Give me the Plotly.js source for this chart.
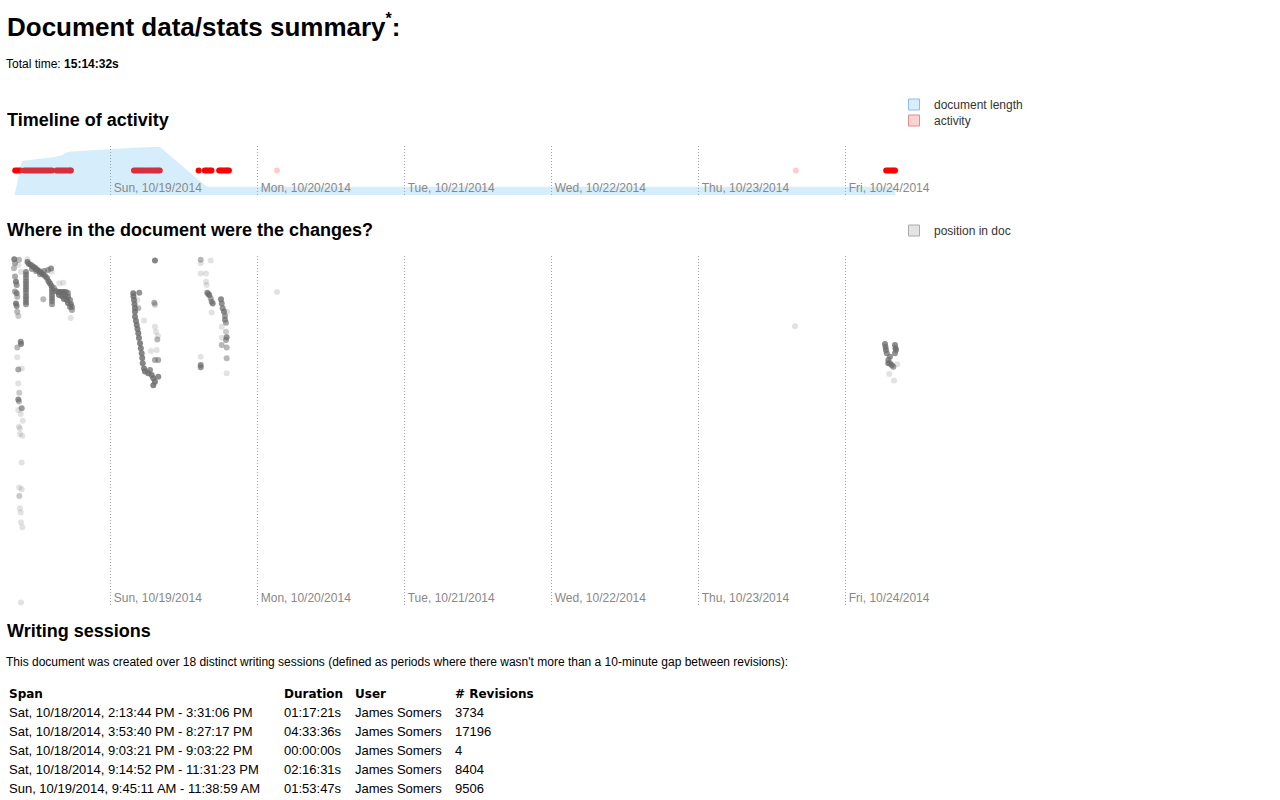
<!DOCTYPE html>
<html><head><meta charset="utf-8">
<script src="https://cdn.plot.ly/plotly-3.0.1.min.js"></script>
<style>
html,body{margin:0;padding:0;background:#fff;}
body{width:1280px;height:800px;overflow:hidden;position:relative;font-family:"Liberation Sans",Arial,sans-serif;color:#000;}
.abs{position:absolute;white-space:nowrap;margin:0;}
.h1{left:7px;top:14px;font-size:26px;line-height:26px;font-weight:bold;}
.h1 sup{font-size:16px;line-height:0;position:relative;top:-2px;}
.h2{left:7px;font-size:18px;line-height:18px;font-weight:bold;}
.txt{left:6px;font-size:12px;line-height:12px;}
#timeline{left:0;top:90px;width:1280px;height:110px;}
#positions{left:0;top:216px;width:1280px;height:394px;}
table{border-collapse:collapse;table-layout:fixed;}
td,th{padding:0 0 0 3px;height:19px;text-align:left;white-space:nowrap;vertical-align:middle;}
th{font-family:"DejaVu Sans",sans-serif;font-weight:bold;font-size:12px;}
td{font-size:13px;}
</style>
</head><body>
<div class="abs h1">Document data/stats summary<sup>*</sup>:</div>
<div class="abs txt" style="top:58px">Total time: <b>15:14:32s</b></div>
<div class="abs h2" style="top:111px">Timeline of activity</div>
<div class="abs" id="timeline"></div>
<div class="abs h2" style="top:221px">Where in the document were the changes?</div>
<div class="abs" id="positions"></div>
<div class="abs h2" style="top:622px">Writing sessions</div>
<div class="abs txt" style="top:656px">This document was created over 18 distinct writing sessions (defined as periods where there wasn't more than a 10-minute gap between revisions):</div>
<table class="abs" id="sessions" style="left:6px;top:684px;"></table>
<script>
// ---- axis ticks (hours since Sat 10/18/2014 00:00) ----
var dayTickHours = [30, 54, 78, 102, 126, 150];
var dayTickLabels = ["Sun, 10/19/2014", "Mon, 10/20/2014", "Tue, 10/21/2014", "Wed, 10/22/2014", "Thu, 10/23/2014", "Fri, 10/24/2014"];
var axisRange = [12.9, 159.84];

// ---- document length over time (hours, characters) ----
var lengthHours = [14.3, 15.5, 16.5, 18.0, 19.5, 21.0, 22.2, 22.6, 23.5, 33.75, 35.6, 38.0, 44.35, 45.7, 49.3, 57.15, 141.85, 158.1];
var lengthChars = [0, 24300, 24800, 25700, 26500, 27400, 28600, 30200, 31000, 33800, 34100, 34500, 10800, 5900, 5950, 5950, 5950, 5950];

// ---- activity: revisions per ~20 minute bin (hours, revisions) ----
var activityHours = [14.4, 14.7, 15.0, 15.3,
  15.9, 16.2, 16.5, 16.8, 17.1, 17.4, 17.7, 18.0, 18.3, 18.6, 18.9, 19.2, 19.5, 19.8, 20.1, 20.4,
  21.06,
  21.25, 21.55, 21.85, 22.15, 22.45, 22.75, 23.05, 23.35, 23.5,
  33.8, 34.1, 34.4, 34.7, 35.0, 35.3, 35.6,
  35.95, 36.25, 36.55, 36.85, 37.15, 37.45, 37.75, 38.0,
  44.35,
  45.35, 45.6, 45.9, 46.2, 46.45,
  47.7, 47.95, 48.2, 48.5, 48.8, 49.05, 49.3,
  57.15, 141.85,
  156.6, 156.9, 157.2, 157.5, 157.8, 158.05];
var activityRevs = [900, 950, 1000, 880,
  1200, 1250, 1300, 1150, 1100, 1200, 1250, 1300, 1200, 1150, 1100, 1250, 1300, 1200, 1150, 1100,
  4,
  900, 950, 1000, 950, 900, 1000, 950, 900, 850,
  1300, 1400, 1350, 1400, 1300, 1350, 1200,
  1000, 1100, 1050, 1000, 1100, 1000, 950, 900,
  30,
  40, 35, 30, 40, 35,
  60, 65, 70, 60, 65, 60, 55,
  1, 1,
  300, 320, 310, 330, 300, 280];

// ---- where in the document: (hours, position % from start, revisions) ----
var posHours = [14.25,15.02,14.37,14.91,14.20,15.35,14.37,14.53,14.64,14.37,14.64,14.74,14.53,14.64,14.74,14.91,
  15.30,15.35,14.74,14.74,14.91,15.46,14.91,15.07,14.91,15.02,15.46,14.91,15.30,15.62,15.02,15.18,15.18,15.56,
  15.46,15.07,15.46,15.07,15.18,15.30,15.35,15.56,15.35,
  16.16,16.16,16.16,16.16,16.16,16.16,16.16,16.16,16.16,16.16,16.16,16.16,
  16.41,16.65,16.98,17.31,17.63,17.96,18.29,18.61,18.94,19.27,19.59,19.84,20.08,20.33,
  17.14,17.80,18.45,19.10,19.76,20.25,
  20.41,20.41,20.41,20.41,20.41,20.41,
  16.38,20.36,21.60,22.25,18.99,23.46,20.73,
  21.06,21.39,21.71,22.04,22.37,22.69,23.02,21.55,22.04,22.53,23.02,22.37,22.86,23.35,23.02,23.51,23.35,23.67,23.67,
  33.68,33.71,33.80,33.88,33.96,33.96,33.96,34.12,34.24,34.37,34.50,34.61,34.78,34.91,35.05,35.14,35.22,35.43,
  35.59,36.13,36.41,36.69,36.95,37.22,36.95,37.76,
  34.66,37.22,37.11,37.22,37.22,37.39,37.60,37.71,36.57,37.50,37.22,37.76,35.43,34.34,34.50,
  44.69,44.69,46.32,44.69,45.55,45.55,45.67,45.76,45.93,46.09,46.32,46.48,46.65,46.48,
  48.00,48.12,48.28,48.49,49.03,48.65,48.65,48.82,48.12,48.82,48.93,48.82,48.12,48.12,48.93,48.93,48.93,
  44.69,44.69,44.69,
  57.14,141.72,
  156.41,156.49,156.57,156.69,158.04,158.12,158.21,158.04,157.23,156.95,156.95,157.51,157.77,157.23,158.42,157.11,157.88];
var posPct = [0.9,1.1,2.1,2.6,3.5,4.5,5.9,7.4,8.3,10.2,10.7,11.7,13.6,14.3,16.0,17.2,
  24.6,25.2,26.2,29.0,32.5,32.2,36.5,39.2,41.1,41.7,43.6,44.1,45.3,47.2,48.9,49.4,51.0,51.5,
  59.2,66.3,66.8,68.8,72.3,73.5,76.3,77.7,99.3,
  4.6,5.4,6.3,7.2,8.0,8.9,9.7,10.6,11.5,12.3,13.2,13.8,
  1.7,2.3,2.6,3.0,3.4,3.9,4.3,4.7,5.2,5.7,6.3,7.2,7.9,8.6,
  3.7,4.3,5.2,4.3,4.0,3.6,
  9.5,10.3,11.2,12.0,12.9,13.8,
  0.9,4.5,7.8,7.7,12.4,17.8,9.2,
  10.0,10.3,10.3,10.3,10.3,10.3,10.6,11.2,11.5,11.5,11.7,12.3,12.6,12.6,13.5,13.8,14.6,14.6,15.5,
  10.7,11.5,12.6,13.8,15.0,16.0,17.4,18.6,19.8,20.9,22.1,23.5,25.0,26.4,27.9,29.2,30.7,32.2,
  33.1,33.6,32.7,34.1,35.0,36.0,37.0,34.6,
  10.5,1.3,13.4,14.0,20.3,21.7,23.9,22.9,27.2,26.9,29.8,29.8,18.5,12.6,15.0,
  1.1,2.1,1.3,5.0,5.0,7.4,8.3,10.5,10.9,11.2,12.1,13.1,13.6,16.2,
  12.4,13.6,15.0,16.0,16.0,17.2,18.3,19.1,20.3,21.7,23.3,24.1,23.4,25.5,26.2,29.3,33.6,
  28.9,31.2,31.9,
  10.3,20.1,
  25.2,26.1,26.9,27.9,25.5,26.4,26.9,27.9,28.9,29.8,30.7,31.2,31.7,30.7,31.0,33.8,35.7];
var posRevs = [8,3,4,1,3,1,4,8,5,4,6,3,8,6,3,2,
  6,7,3,1,4,1,1,2,6,3,5,1,1,1,1,1,1,1,
  1,1,1,2,1,1,1,1,1,
  6,6,6,6,6,6,6,6,6,6,6,5,
  8,8,8,8,8,8,8,8,8,8,8,8,8,8,
  5,5,5,5,5,6,
  6,6,6,6,6,5,
  1,1,1,1,3,1,5,
  6,8,8,8,8,6,5,8,8,8,8,8,8,6,8,8,6,5,4,
  8,8,8,8,8,8,8,8,8,8,8,8,8,8,8,8,8,8,
  8,8,6,8,8,8,8,7,
  6,8,4,2,1,1,3,1,1,1,4,4,1,1,3,
  3,1,1,1,1,1,1,6,6,6,4,5,6,1,
  7,6,6,7,1,5,6,4,1,2,6,4,1,3,3,3,1,
  1,6,6,
  1,1,
  7,7,7,6,7,7,6,6,6,6,7,7,5,5,1,1,1];

// ---- writing sessions table ----
var sessionSpans = ["Sat, 10/18/2014, 2:13:44 PM - 3:31:06 PM", "Sat, 10/18/2014, 3:53:40 PM - 8:27:17 PM", "Sat, 10/18/2014, 9:03:21 PM - 9:03:22 PM", "Sat, 10/18/2014, 9:14:52 PM - 11:31:23 PM", "Sun, 10/19/2014, 9:45:11 AM - 11:38:59 AM"];
var sessionDurations = ["01:17:21s", "04:33:36s", "00:00:00s", "02:16:31s", "01:53:47s"];
var sessionUsers = ["James Somers", "James Somers", "James Somers", "James Somers", "James Somers"];
var sessionRevisions = [3734, 17196, 4, 8404, 9506];

var FONT = "Liberation Sans, Arial, sans-serif";
function revOpacity(r){ return Math.min(1, 1 - Math.pow(0.8, r)); }

function dayAxis(){
  return {
    range: axisRange, type: "linear", fixedrange: true,
    tickmode: "array", tickvals: dayTickHours, ticktext: dayTickLabels,
    ticklabelposition: "inside right", ticklabeloverflow: "allow",
    ticklabelshift: 3, ticklabelstandoff: -5,
    ticks: "", showline: false, zeroline: false,
    showgrid: true, gridcolor: "#a0a0a0", griddash: "1px,2px", gridwidth: 1,
    tickfont: {family: FONT, size: 12, color: "#888"}
  };
}

// Timeline
var laneValue = 17500;
var tlTraces = [
  {type: "scatter", mode: "markers", x: activityHours, y: activityHours.map(function(){return laneValue;}),
   marker: {size: 6, color: "rgb(255,0,0)", opacity: activityRevs.map(revOpacity)}, cliponaxis: false, showlegend: false, hoverinfo: "skip"},
  {type: "scatter", mode: "none", x: lengthHours, y: lengthChars, fill: "tozeroy",
   fillcolor: "rgba(92,188,244,0.25)", showlegend: false, hoverinfo: "skip"},
  {type: "scatter", mode: "markers", x: [null], y: [null], name: "document length", legend: "legend",
   marker: {symbol: "square", size: 11, color: "#d8eefb", line: {color: "#8dbfe3", width: 1}}},
  {type: "scatter", mode: "markers", x: [null], y: [null], name: "activity", legend: "legend2",
   marker: {symbol: "square", size: 11, color: "#fbd3d3", line: {color: "#df8c8c", width: 1}}}
];
var legendBase = {xref: "container", yref: "container", xanchor: "left", yanchor: "top", bgcolor: "rgba(0,0,0,0)",
  borderwidth: 0, font: {family: FONT, size: 12, color: "#333"}};
var tlLayout = {
  width: 1280, height: 110, margin: {l: 6, r: 374, t: 56, b: 5, autoexpand: false},
  paper_bgcolor: "rgba(0,0,0,0)", plot_bgcolor: "rgba(0,0,0,0)",
  xaxis: dayAxis(),
  yaxis: {range: [0, 35000], visible: false, fixedrange: true},
  legend: Object.assign({}, legendBase, {x: 894/1280, y: 1 - 0/110}),
  legend2: Object.assign({}, legendBase, {x: 894/1280, y: 1 - 16/110}),
  showlegend: true
};
Plotly.newPlot("timeline", tlTraces, tlLayout, {staticPlot: true, displayModeBar: false});

// Positions
var psTraces = [
  {type: "scatter", mode: "markers", x: posHours, y: posPct,
   marker: {size: 6, color: "rgb(108,108,108)", opacity: posRevs.map(revOpacity)}, cliponaxis: false, showlegend: false, hoverinfo: "skip"},
  {type: "scatter", mode: "markers", x: [null], y: [null], name: "position in doc",
   marker: {symbol: "square", size: 11, color: "#e4e4e4", line: {color: "#aaaaaa", width: 1}}}
];
var psLayout = {
  width: 1280, height: 394, margin: {l: 6, r: 374, t: 40, b: 5, autoexpand: false},
  paper_bgcolor: "rgba(0,0,0,0)", plot_bgcolor: "rgba(0,0,0,0)",
  xaxis: dayAxis(),
  yaxis: {range: [100, 0], visible: false, fixedrange: true},
  legend: Object.assign({}, legendBase, {x: 894/1280, y: 1}),
  showlegend: true
};
Plotly.newPlot("positions", psTraces, psLayout, {staticPlot: true, displayModeBar: false});

// Table
var tbl = document.getElementById("sessions");
var colW = [275, 71, 100, 120];
var html = "<colgroup>" + colW.map(function(w){return '<col style="width:' + w + 'px">';}).join("") + "</colgroup>";
html += "<tr><th>Span</th><th>Duration</th><th>User</th><th># Revisions</th></tr>";
for (var i = 0; i < sessionSpans.length; i++) {
  html += "<tr><td>" + sessionSpans[i] + "</td><td>" + sessionDurations[i] + "</td><td>" + sessionUsers[i] + "</td><td>" + sessionRevisions[i] + "</td></tr>";
}
tbl.innerHTML = html;
</script>
</body></html>
